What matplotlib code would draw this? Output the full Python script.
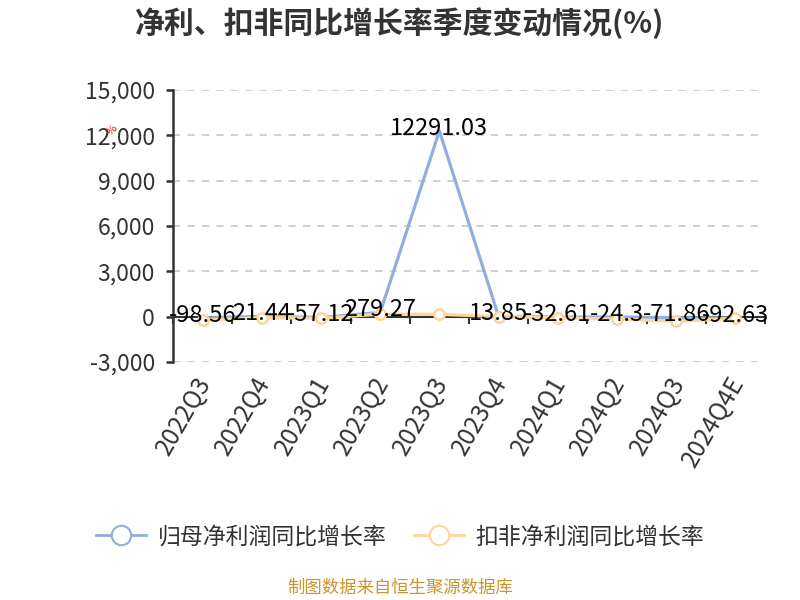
import matplotlib
matplotlib.use("Agg")
import matplotlib.pyplot as plt
from matplotlib.lines import Line2D
from matplotlib.ticker import FuncFormatter
import matplotlib.transforms as mtransforms

plt.rcParams['font.family'] = ['Noto Sans CJK SC', 'DejaVu Sans']
plt.rcParams['axes.unicode_minus'] = False

# data
quarters = ["2022Q3", "2022Q4", "2023Q1", "2023Q2", "2023Q3",
            "2023Q4", "2024Q1", "2024Q2", "2024Q3", "2024Q4E"]
net_growth = [-98.56, 21.44, -57.12, 279.27, 12291.03,
              13.85, -32.61, -24.3, -71.86, -92.63]
deduct_growth = [-230, -60, -110, 170, 150, 10, -70, -160, -300, -120]
series_names = ["归母净利润同比增长率", "扣非净利润同比增长率"]
y_ticks = [-3000, 0, 3000, 6000, 9000, 12000, 15000]

blue = "#8fb0de"
orange = "#fdd59b"
dark = "#333333"

fig = plt.figure(figsize=(8, 6), dpi=100)
ax = fig.add_axes([0.21625, 0.39667, 0.74, 0.45333])

x = list(range(len(quarters)))
ax.plot(x, net_growth, color=blue, lw=2.3, zorder=3)
ax.plot(x, deduct_growth, color=orange, lw=2.3, marker="o", ms=7.5,
        mfc="white", mec=orange, mew=1.8, zorder=4)

# value labels
for xi, v in zip(x, net_growth):
    txt = f"{v:.2f}".rstrip("0").rstrip(".")
    ax.annotate(txt, (xi, v), xytext=(0, 2), textcoords="offset points",
                ha="center", va="center", fontsize=17, color="black", zorder=6)

ax.set_xlim(-0.5, len(quarters) - 0.5)
ax.set_ylim(-3000, 15000)
ax.set_yticks(y_ticks)
ax.yaxis.set_major_formatter(FuncFormatter(lambda v, p: f"{v:,.0f}"))
ax.tick_params(axis="y", length=5, width=1.8, color=dark, pad=8,
               labelsize=16.5, labelcolor=dark)
ax.grid(axis="y", color="#cccccc", lw=1.3, ls=(0, (4, 4)))
ax.set_axisbelow(True)

# x axis at zero with ticks between categories
ax.spines["bottom"].set_position(("data", 0))
ax.spines["bottom"].set_color(dark)
ax.spines["bottom"].set_linewidth(1.5)
ax.spines["left"].set_color(dark)
ax.spines["left"].set_linewidth(1.8)
ax.spines["top"].set_visible(False)
ax.spines["right"].set_visible(False)
ax.set_xticks([i - 0.5 for i in range(len(quarters) + 1)])
ax.set_xticklabels([])
ax.tick_params(axis="x", length=5, width=1.5, color=dark)

trans = mtransforms.blended_transform_factory(ax.transData, ax.transAxes)
for xi, q in zip(x, quarters):
    ax.text(xi + 0.05, -0.06, q, transform=trans, rotation=60,
            rotation_mode="anchor", ha="right", va="center",
            fontsize=17.5, color=dark)

fig.text(0.5, 0.962, "净利、扣非同比增长率季度变动情况(%)", ha="center",
         va="center", fontsize=21.5, fontweight="bold", color=dark)
fig.text(0.14, 0.783, "%", color="red", fontsize=8, rotation=45,
         ha="center", va="center")

handles = [
    Line2D([0], [0], color=blue, lw=2, marker="o", ms=14, mfc="white",
           mec=blue, mew=1.5),
    Line2D([0], [0], color=orange, lw=2, marker="o", ms=14, mfc="white",
           mec=orange, mew=1.5),
]
fig.legend(handles, series_names, loc="center", bbox_to_anchor=(0.5, 0.105),
           ncol=2, frameon=False, fontsize=16.5, handlelength=2.2,
           columnspacing=1.2, handletextpad=0.5, labelcolor=dark)

fig.text(0.5, 0.02, "制图数据来自恒生聚源数据库", ha="center", va="center",
         fontsize=12.5, color="#c8962a")

fig.savefig("out.png", dpi=100)
